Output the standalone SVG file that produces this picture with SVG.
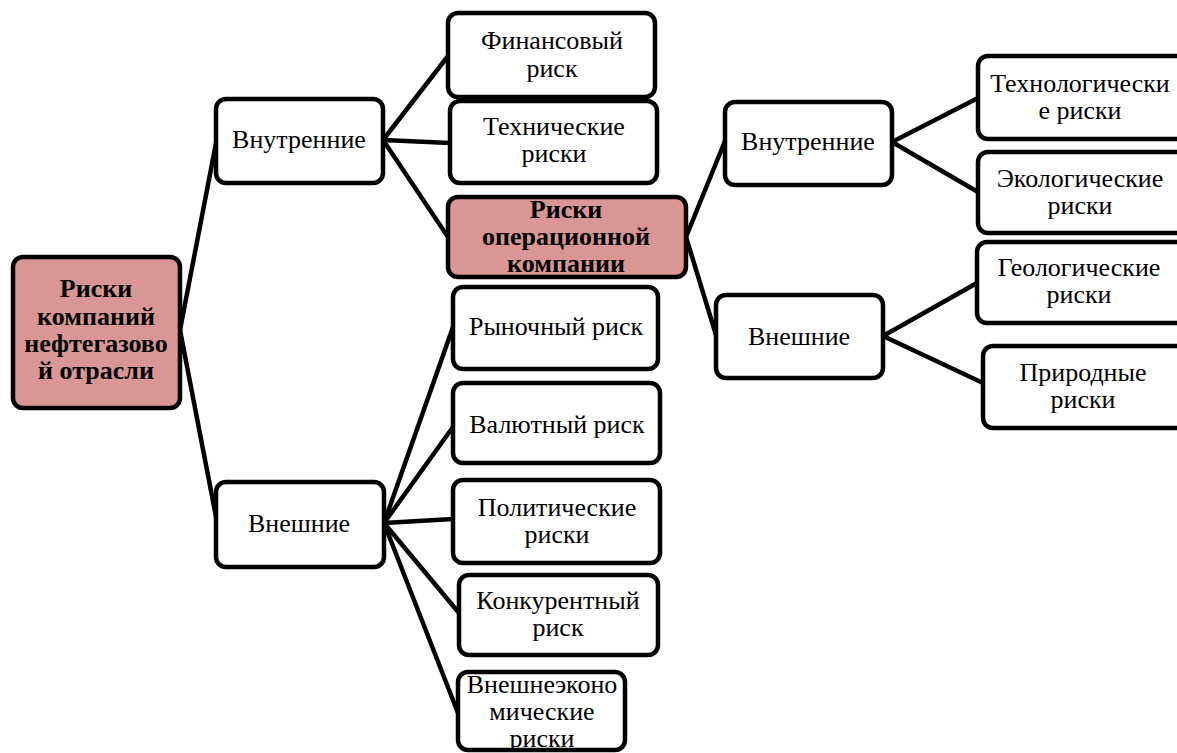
<svg xmlns="http://www.w3.org/2000/svg" width="1177" height="753" viewBox="0 0 1177 753">
<style>
.box{fill:#fff;stroke:#000;stroke-width:4.5}
.hl{fill:#d99694;stroke:#000;stroke-width:4.5}
text{font-family:"Liberation Serif","Times New Roman",serif;font-size:26px;fill:#000;text-anchor:middle}
.b{font-weight:bold}
.edges line{stroke:#000;stroke-width:4.5;stroke-linecap:round}
</style>
<rect width="1177" height="753" fill="#fff"/>
<g class="edges" id="connectors">
<line x1="180" y1="330" x2="217" y2="138"/>
<line x1="180" y1="330" x2="217" y2="522"/>
<line x1="383" y1="140" x2="448" y2="56"/>
<line x1="383" y1="140" x2="450" y2="143"/>
<line x1="383" y1="140" x2="448" y2="237"/>
<line x1="686" y1="237" x2="725" y2="141"/>
<line x1="686" y1="237" x2="716" y2="335"/>
<line x1="892" y1="142" x2="978" y2="98"/>
<line x1="892" y1="142" x2="978" y2="192"/>
<line x1="883" y1="336" x2="977" y2="283"/>
<line x1="883" y1="336" x2="983" y2="383"/>
<line x1="384" y1="523" x2="453" y2="327"/>
<line x1="384" y1="523" x2="453" y2="427"/>
<line x1="384" y1="523" x2="453" y2="519"/>
<line x1="384" y1="523" x2="459" y2="613"/>
<line x1="384" y1="523" x2="458" y2="713"/>
</g>
<g id="root">
<rect class="hl" x="13" y="257" width="167" height="151" rx="10"/>
<text class="b" x="96"><tspan x="96" y="297">Риски</tspan><tspan x="96" y="325">компаний</tspan><tspan x="96" y="352">нефтегазово</tspan><tspan x="96" y="379">й отрасли</tspan></text>
</g>
<g id="internal-left">
<rect class="box" x="216" y="99" width="167" height="84" rx="10"/>
<text x="299" y="148">Внутренние</text>
</g>
<g id="external-left">
<rect class="box" x="216" y="482" width="168" height="85" rx="10"/>
<text x="299" y="532">Внешние</text>
</g>
<g id="financial">
<rect class="box" x="448" y="13" width="207" height="84" rx="10"/>
<text><tspan x="552" y="49">Финансовый</tspan><tspan x="552" y="77">риск</tspan></text>
</g>
<g id="technical">
<rect class="box" x="450" y="101" width="207" height="82" rx="10"/>
<text><tspan x="554" y="135">Технические</tspan><tspan x="554" y="162">риски</tspan></text>
</g>
<g id="operational">
<rect class="hl" x="448" y="197" width="238" height="80" rx="10"/>
<text class="b"><tspan x="566" y="218">Риски</tspan><tspan x="566" y="245">операционной</tspan><tspan x="566" y="272">компании</tspan></text>
</g>
<g id="internal-right">
<rect class="box" x="725" y="102" width="167" height="83" rx="10"/>
<text x="808" y="150">Внутренние</text>
</g>
<g id="external-right">
<rect class="box" x="716" y="295" width="167" height="83" rx="10"/>
<text x="799" y="345">Внешние</text>
</g>
<g id="technological">
<rect class="box" x="978" y="56" width="210" height="83" rx="10"/>
<text><tspan x="1080" y="92">Технологически</tspan><tspan x="1080" y="119">е риски</tspan></text>
</g>
<g id="ecological">
<rect class="box" x="978" y="152" width="210" height="81" rx="10"/>
<text><tspan x="1080" y="187">Экологические</tspan><tspan x="1080" y="214">риски</tspan></text>
</g>
<g id="geological">
<rect class="box" x="977" y="242" width="210" height="81" rx="10"/>
<text><tspan x="1079" y="276">Геологические</tspan><tspan x="1079" y="303">риски</tspan></text>
</g>
<g id="natural">
<rect class="box" x="983" y="346" width="205" height="82" rx="10"/>
<text><tspan x="1083" y="381">Природные</tspan><tspan x="1083" y="408">риски</tspan></text>
</g>
<g id="market">
<rect class="box" x="453" y="287" width="205" height="82" rx="10"/>
<text x="556" y="335">Рыночный риск</text>
</g>
<g id="currency">
<rect class="box" x="453" y="383" width="207" height="80" rx="10"/>
<text x="557" y="433">Валютный риск</text>
</g>
<g id="political">
<rect class="box" x="453" y="480" width="207" height="83" rx="10"/>
<text><tspan x="557" y="516">Политические</tspan><tspan x="557" y="543">риски</tspan></text>
</g>
<g id="competitive">
<rect class="box" x="459" y="575" width="199" height="80" rx="10"/>
<text><tspan x="558" y="609">Конкурентный</tspan><tspan x="558" y="636">риск</tspan></text>
</g>
<g id="foreign-economic">
<rect class="box" x="458" y="672" width="167" height="78" rx="10"/>
<text><tspan x="542" y="693">Внешнеэконо</tspan><tspan x="542" y="720">мические</tspan><tspan x="542" y="747">риски</tspan></text>
</g>
</svg>
